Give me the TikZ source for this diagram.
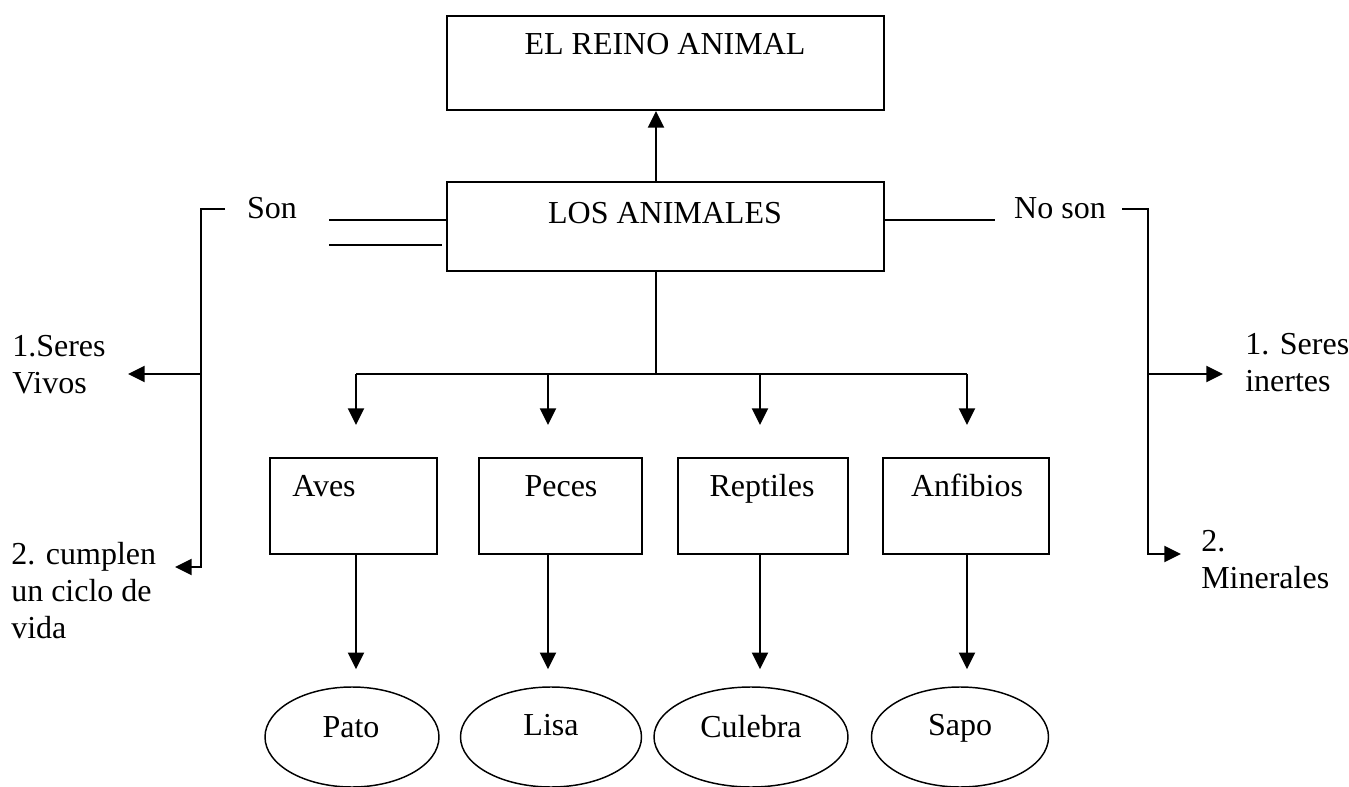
\documentclass[tikz,border=0pt]{standalone}
\usepackage{fontspec}
\setmainfont{Liberation Serif}
\usetikzlibrary{arrows.meta,shapes.geometric}
\begin{document}
\begin{tikzpicture}[x=0.75pt,y=-0.75pt,
  every node/.style={font=\fontsize{24}{27.75}\selectfont},
  ln/.style={line width=1.5pt},
  arr/.style={ln,-{Triangle[length=12.5pt,width=12pt]}},
  box/.style={draw,line width=1.5pt,rectangle,inner sep=0pt},
  oval/.style={draw,line width=1.1pt,ellipse,inner sep=0pt,minimum height=75pt},
  txt/.style={inner sep=0pt,anchor=base},
  ltxt/.style={inner sep=0pt,anchor=base west,align=left},
  ]
\useasboundingbox (0,0) rectangle (1349,787);

% main boxes
\node[box,minimum width=327.75pt,minimum height=70.5pt] (reino) at (665.5,63) {};
\node[txt] (reinoT) at (665,55) {EL REINO ANIMAL};
\node[box,minimum width=327.75pt,minimum height=66.75pt] (los) at (665.5,226.5) {};
\node[txt] (losT) at (665,224) {LOS ANIMALES};

% class boxes
\node[box,minimum width=125.25pt,minimum height=72pt] (aves) at (353.5,506) {};
\node[box,minimum width=122.25pt,minimum height=72pt] (peces) at (560.5,506) {};
\node[box,minimum width=127.5pt,minimum height=72pt] (rept) at (763,506) {};
\node[box,minimum width=124.5pt,minimum height=72pt] (anf) at (966,506) {};
\node[inner sep=0pt,anchor=base west] (avesT) at (292,497) {Aves};
\node[txt] (pecesT) at (561,497) {Peces};
\node[txt] (reptT) at (762,497) {Reptiles};
\node[txt] (anfT) at (967,497) {Anfibios};

% examples
\node[oval,minimum width=130.5pt] (pato) at (352,737) {};
\node[oval,minimum width=135.75pt] (lisa) at (551,737) {};
\node[oval,minimum width=145.5pt] (culebra) at (751,737) {};
\node[oval,minimum width=132.75pt] (sapo) at (960,737) {};
\node[txt] (patoT) at (351,737) {Pato};
\node[txt] (lisaT) at (551,735) {Lisa};
\node[txt] (culebraT) at (751,737) {Culebra};
\node[txt] (sapoT) at (960,735) {Sapo};

% side labels (base anchor sits on the last line)
\node[txt] (son) at (272,219) {Son};
\node[txt] (noson) at (1060,219) {No son};
\node[ltxt] (vivos) at (12,394) {1.Seres\\Vivos};
\node[ltxt] (ciclo) at (11,638) {2. cumplen\\un ciclo de\\vida};
\node[ltxt] (inertes) at (1245,392) {1. Seres\\inertes};
\node[ltxt] (minerales) at (1201,588) {2.\\Minerales};

% branch columns
\coordinate (bus) at (656,374);
\coordinate (c1) at (356,374);
\coordinate (c2) at (548,374);
\coordinate (c3) at (760,374);
\coordinate (c4) at (967,374);

\draw[arr] (los.north -| bus) -- (reino.south -| bus);
\draw[ln] (los.south -| bus) -- (bus);
\draw[ln] (c1) -- (c4);
\foreach \c/\b/\e in {c1/aves/pato, c2/peces/lisa, c3/rept/culebra, c4/anf/sapo} {
  \draw[arr,shorten >=24pt] (\c) -- (\b.north -| \c);
  \draw[arr,shorten >=12.75pt] (\b.south -| \c) -- (\e.north -| \c);
}

% "Son" side
\coordinate (sonA) at (329,220);
\coordinate (sonB) at (329,245);
\draw[ln] (sonA) -- (sonA -| los.west);
\draw[ln,shorten >=3pt] (sonB) -- (sonB -| los.west);
\coordinate (lTop) at (225,209);
\coordinate (lBar) at (201,209);
\coordinate (lMid) at (201,374);
\coordinate (lBot) at (201,567);
\coordinate (lTip1) at (128,374);
\coordinate (lTip2) at (175,567);
\draw[arr] (lTop) -- (lBar) -- (lBot) -- (lTip2);
\draw[arr] (lMid) -- (lTip1);

% "No son" side
\coordinate (rA) at (995,220);
\draw[ln] (rA -| los.east) -- (rA);
\coordinate (rTop) at (1122,209);
\coordinate (rBar) at (1148,209);
\coordinate (rMid) at (1148,374);
\coordinate (rBot) at (1148,554);
\coordinate (rTip1) at (1223,374);
\coordinate (rTip2) at (1181,554);
\draw[arr] (rTop) -- (rBar) -- (rBot) -- (rTip2);
\draw[arr] (rMid) -- (rTip1);
\end{tikzpicture}
\end{document}
